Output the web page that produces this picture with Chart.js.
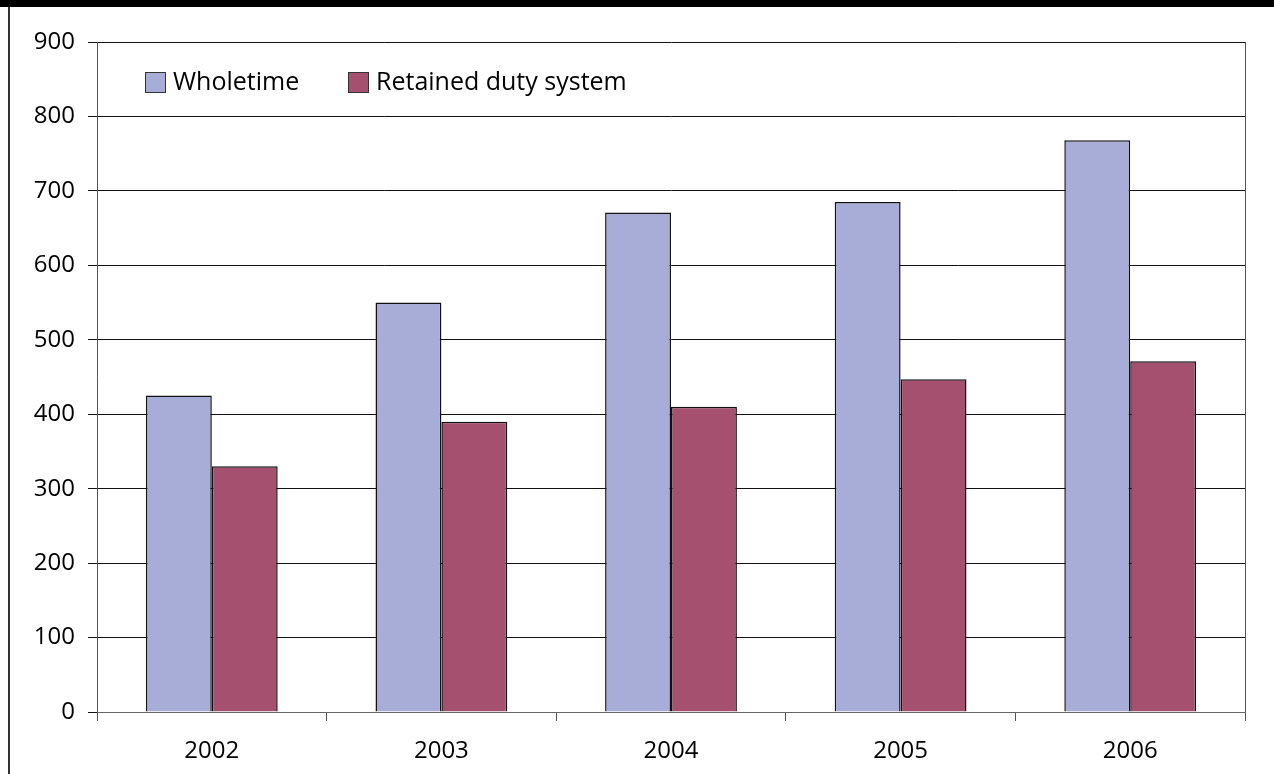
<!DOCTYPE html>
<html>
<head>
<meta charset="utf-8">
<script src="https://cdn.jsdelivr.net/npm/chart.js@4/dist/chart.umd.min.js"></script>
<style>
    html, body { margin: 0; padding: 0; background: #fff; }
    #wrap { position: relative; width: 1274px; height: 774px; overflow: hidden; }
    #topBar { position: absolute; left: 0; top: 0; width: 1274px; height: 7px; background: #000; }
    #leftRule { position: absolute; left: 8px; top: 7px; width: 2px; height: 767px; background: #333; }
    canvas { position: absolute; left: 0; top: 0; }
</style>
</head>
<body>
<div id="wrap">
    <canvas id="firesChart" width="1274" height="774"></canvas>
    <div id="topBar"></div>
    <div id="leftRule"></div>
</div>
<script>
var years = ['2002', '2003', '2004', '2005', '2006'];
var wholetime = [425, 550, 671, 685, 768];
var retained = [330, 390, 410, 447, 471];
var seriesNames = ['Wholetime', 'Retained duty system'];
var seriesColors = ['#A7ADD6', '#A5506F'];

var FONT = "'Open Sans', 'DejaVu Sans', sans-serif";

// legend drawn inside the plot, top-left
var insideLegend = {
    id: 'insideLegend',
    afterDraw: function (chart) {
        var c = chart.ctx;
        var area = chart.chartArea;
        var x = area.left + 48;
        var y = area.top + 30;
        c.save();
        c.font = '25px ' + FONT;
        c.textBaseline = 'middle';
        chart.data.datasets.forEach(function (ds, i) {
            c.fillStyle = ds.backgroundColor;
            c.fillRect(x, y, 20, 20);
            c.strokeStyle = '#333';
            c.lineWidth = 1;
            c.strokeRect(x + 0.5, y + 0.5, 20, 20);
            c.fillStyle = '#000';
            c.fillText(ds.label, x + 28, y + 11);
            x += i === 0 ? 203 : 0;
        });
        c.restore();
    }
};

// right edge of the plot frame
var plotFrame = {
    id: 'plotFrame',
    afterDatasetsDraw: function (chart) {
        var c = chart.ctx;
        var area = chart.chartArea;
        c.save();
        c.strokeStyle = '#555';
        c.lineWidth = 1;
        c.beginPath();
        c.moveTo(Math.round(area.right) + 0.5, area.top);
        c.lineTo(Math.round(area.right) + 0.5, area.bottom);
        c.stroke();
        c.restore();
    }
};

var ctx = document.getElementById('firesChart').getContext('2d');
var firesChart = new Chart(ctx, {
    type: 'bar',
    data: {
        labels: years,
        datasets: [{
            label: seriesNames[0],
            data: wholetime,
            backgroundColor: seriesColors[0],
            borderColor: '#111',
            borderWidth: 1.5,
            categoryPercentage: 0.574,
            barPercentage: 1
        }, {
            label: seriesNames[1],
            data: retained,
            backgroundColor: seriesColors[1],
            borderColor: '#111',
            borderWidth: 1.5,
            categoryPercentage: 0.574,
            barPercentage: 1
        }]
    },
    options: {
        responsive: false,
        animation: false,
        events: [],
        layout: {
            padding: { left: 0, top: 42, right: 29, bottom: 0 }
        },
        plugins: {
            legend: { display: false },
            tooltip: { enabled: false }
        },
        scales: {
            y: {
                min: 0,
                max: 900,
                afterFit: function (scale) { scale.width = 97; },
                ticks: {
                    stepSize: 100,
                    color: '#000',
                    padding: 13,
                    font: { family: FONT, size: 24 }
                },
                grid: {
                    color: '#111',
                    lineWidth: 1,
                    tickLength: 9
                },
                border: { color: '#555', width: 1 }
            },
            x: {
                afterFit: function (scale) { scale.height = 62; },
                ticks: {
                    color: '#000',
                    padding: 16,
                    font: { family: FONT, size: 24 }
                },
                grid: {
                    offset: true,
                    drawOnChartArea: false,
                    color: '#555',
                    tickLength: 9
                },
                border: { color: '#666', width: 1 }
            }
        }
    },
    plugins: [insideLegend, plotFrame]
});
</script>
</body>
</html>
